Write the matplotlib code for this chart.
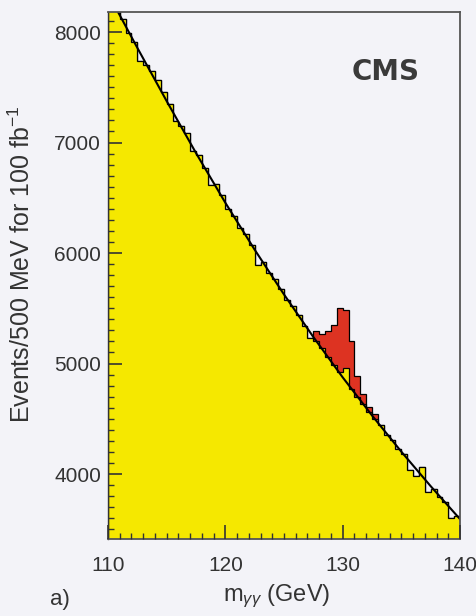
import numpy as np
import matplotlib
matplotlib.use('Agg')
import matplotlib.pyplot as plt
from matplotlib.ticker import MultipleLocator

plt.rcParams['font.family'] = ['Liberation Sans', 'DejaVu Sans']
plt.rcParams['mathtext.fontset'] = 'custom'
plt.rcParams['mathtext.rm'] = 'Liberation Sans'
plt.rcParams['mathtext.it'] = 'Liberation Sans:italic'

# m_gg bins, 500 MeV wide
bin_edges = np.arange(110.0, 140.5, 0.5)

# background (yellow) events per bin
background = [8313, 8196, 8121, 7993, 7912, 7734, 7706, 7649, 7562, 7459,
              7346, 7194, 7152, 7082, 6922, 6887, 6770, 6620, 6626, 6521,
              6400, 6336, 6227, 6169, 6072, 5889, 5917, 5821, 5764, 5677,
              5574, 5524, 5441, 5343, 5228, 5200, 5140, 5060, 4990, 4920,
              4960, 4770, 4700, 4630, 4560, 4495, 4444, 4351, 4312, 4223,
              4180, 4033, 3986, 4064, 3836, 3866, 3792, 3750, 3601, 3622]

# Higgs signal (red) stacked on top of the background
signal = [0, 0, 0, 0, 0, 0, 0, 0, 0, 0,
          0, 0, 0, 0, 0, 0, 0, 0, 0, 0,
          0, 0, 0, 0, 0, 0, 0, 0, 0, 0,
          0, 0, 0, 0, 0, 90, 130, 235, 360, 585,
          520, 430, 185, 90, 50, 45, 0, 0, 0, 0,
          0, 0, 0, 0, 0, 0, 0, 0, 0, 0]

# smooth background fit
fit_mass = [110.0, 112.5, 115.0, 117.5, 120.0, 122.5, 125.0,
            127.5, 130.0, 132.5, 135.0, 137.5, 140.0]
fit_events = [8350, 7857, 7375, 6905, 6455, 6030, 5625,
              5240, 4875, 4530, 4202, 3890, 3592]

bg_col = '#f3f3f8'
ink = '#333333'

fig = plt.figure(figsize=(4.77, 6.16), dpi=100, facecolor=bg_col)
ax = fig.add_axes([0.2264, 0.125, 0.738, 0.8555], facecolor=bg_col)

total = np.array(background) + np.array(signal)

# signal + background, red
ax.stairs(total, bin_edges, fill=True, color='#dd3322', lw=0, zorder=1)
ax.stairs(total, bin_edges, color='black', lw=0.9, zorder=1.2)
# background alone, yellow
ax.stairs(background, bin_edges, fill=True, color='#f5e800', lw=0, zorder=1.4)
ax.stairs(background, bin_edges, color='black', lw=0.9, zorder=1.6)
# fit
ax.plot(fit_mass, fit_events, color='black', lw=1.5, zorder=2)

ax.set_xlim(110, 140)
ax.set_ylim(3412, 8181)
ax.set_axisbelow(False)

ax.xaxis.set_major_locator(MultipleLocator(10))
ax.xaxis.set_minor_locator(MultipleLocator(1))
ax.yaxis.set_major_locator(MultipleLocator(1000))
ax.yaxis.set_minor_locator(MultipleLocator(100))
ax.tick_params(which='both', direction='in', colors=ink, top=False, right=False)
ax.tick_params(which='major', length=10, width=1.2, labelsize=15)
ax.tick_params(which='minor', length=4, width=1.0)
ax.tick_params(axis='x', which='major', pad=12)
ax.tick_params(axis='y', which='major', pad=5)

for side, s in ax.spines.items():
    s.set_color('#555555')
    s.set_linewidth(1.3)
ax.spines['left'].set_color(ink)
ax.spines['left'].set_linewidth(1.0)

fig.text(0.046, 0.571, r'Events/500 MeV for 100 fb$^{-1}$', rotation=90,
         ha='center', va='center', fontsize=18, color=ink)
fig.text(0.58, 0.024, r'm$_{\gamma\gamma}$ (GeV)', ha='center', va='baseline',
         fontsize=17, color=ink)
fig.text(0.105, 0.018, 'a)', ha='left', va='baseline', fontsize=16, color=ink)
fig.text(0.809, 0.883, 'CMS', ha='center', va='center', fontsize=20,
         fontweight='bold', color='#3a3a3a', family='DejaVu Sans')

fig.savefig('out.png', dpi=100, facecolor=bg_col)
